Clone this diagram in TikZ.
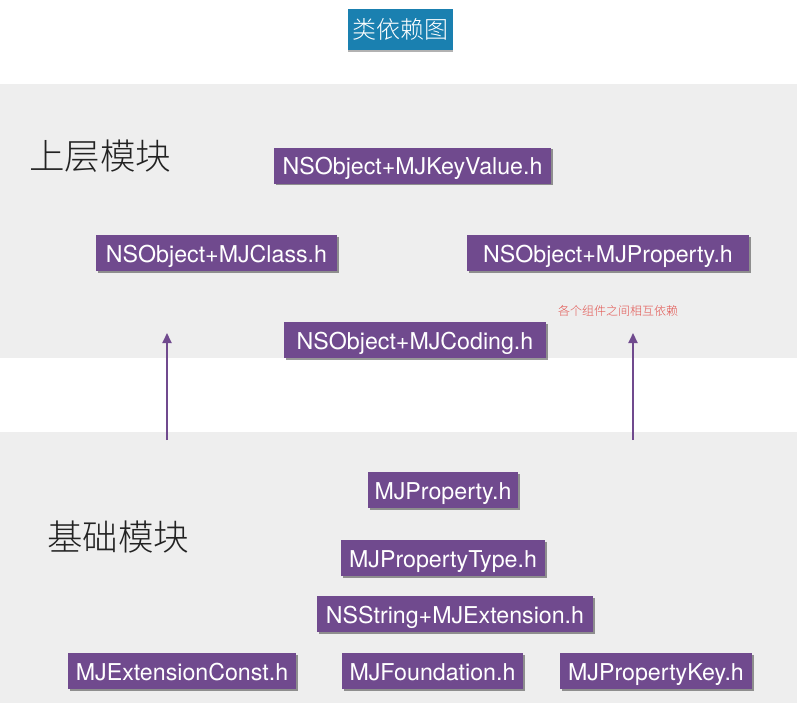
\documentclass[tikz,border=0pt]{standalone}
\usepackage{fontspec}
\setmainfont{TeX Gyre Heros}
\newfontfamily\cjk{Noto Sans CJK SC}
\newfontfamily\cjklight{Noto Sans CJK SC Light}
\usetikzlibrary{shadows,arrows.meta}
\definecolor{mjpurple}{RGB}{112,74,142}
\definecolor{bandgray}{RGB}{238,238,238}
\definecolor{titleblue}{RGB}{26,128,176}
\definecolor{notered}{RGB}{226,84,80}
\definecolor{labelgray}{RGB}{34,34,34}
\begin{document}
\begin{tikzpicture}[x=1pt,y=-1pt,
  filebox/.style={fill=mjpurple, text=white, minimum height=36pt, inner sep=0pt,
    text height=18pt, text depth=0pt,
    font=\fontsize{23.2}{26}\selectfont,
    drop shadow={shadow xshift=1.5pt, shadow yshift=-1.5pt, opacity=0.4, fill=black}},
  layerlabel/.style={anchor=west, inner sep=0pt, text=labelgray, font=\cjklight\fontsize{35.5}{40}\selectfont},
  deparrow/.style={draw=mjpurple, line width=2pt, -{Triangle[length=10pt,width=9pt]}},
  band/.style={fill=bandgray}
]
\useasboundingbox (0,0) rectangle (799,703);
\fill[white] (0,0) rectangle (799,703);
% bands
\fill[band] (0,84) rectangle (797,358);
\fill[band] (0,432) rectangle (797,703);
% title
\node[fill=titleblue, text=white, minimum width=105pt, minimum height=41pt, inner sep=0pt,
  font=\cjklight\fontsize{24}{26}\selectfont,
  drop shadow={shadow xshift=0pt, shadow yshift=-2pt, opacity=0.3, fill=black}] (title) at (400.5,29.5) {类依赖图};
% layer labels
\node[layerlabel] (upper) at (29,156) {上层模块};
\node[layerlabel] (base) at (47,537) {基础模块};
% upper layer
\node[filebox, minimum width=277pt] (keyvalue) at (412.5,166) {NSObject+MJKeyValue.h};
\node[filebox, minimum width=241pt] (mjclass) at (216.5,253) {NSObject+MJClass.h};
\node[filebox, minimum width=282pt] (mjprop) at (608,253) {NSObject+MJProperty.h};
\node[filebox, minimum width=262pt] (coding) at (415,340) {NSObject+MJCoding.h};
\node[inner sep=0pt, text=notered, font=\cjklight\fontsize{12}{14}\selectfont] (note) at (618,310.5) {各个组件之间相互依赖};
% base layer
\node[filebox, minimum width=150pt] (property) at (443,490) {MJProperty.h};
\node[filebox, minimum width=204pt] (ptype) at (443,558) {MJPropertyType.h};
\node[filebox, minimum width=276pt] (nsstring) at (455,614) {NSString+MJExtension.h};
\node[filebox, minimum width=228pt] (econst) at (182,671) {MJExtensionConst.h};
\node[filebox, minimum width=181pt] (found) at (432.5,671) {MJFoundation.h};
\node[filebox, minimum width=192pt] (pkey) at (656,671) {MJPropertyKey.h};
% arrows
\coordinate (a1s) at (167,440);
\coordinate (a1e) at (167,333);
\coordinate (a2s) at (633,440);
\coordinate (a2e) at (633,333);
\draw[deparrow] (a1s) -- (a1e);
\draw[deparrow] (a2s) -- (a2e);
\end{tikzpicture}
\end{document}
